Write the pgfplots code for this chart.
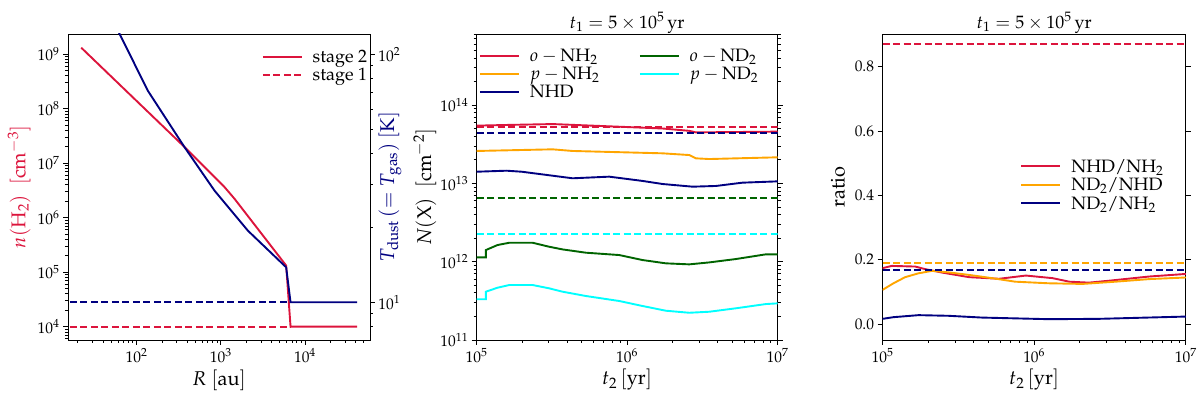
\documentclass[border=0pt]{standalone}
\usepackage[T1]{fontenc}
\usepackage{mathpazo}
\usepackage{pgfplots}
\pgfplotsset{compat=1.18}
\definecolor{crim}{RGB}{220,20,60}
\definecolor{nav}{RGB}{0,0,128}
\definecolor{orng}{RGB}{255,165,0}
\definecolor{dgreen}{RGB}{0,100,0}
\definecolor{cyn}{RGB}{0,255,255}
\pgfplotsset{
  myax/.style={
    scale only axis, height=306bp,
    tick align=outside,
    major tick length=5bp, minor tick length=3bp,
    every tick/.style={black, line width=0.7bp},
    tick label style={font=\fontsize{15.5}{17}\selectfont},
    label style={font=\fontsize{20}{24}\selectfont},
    every axis title shift=0pt,
    title style={font=\fontsize{18}{21}\selectfont, at={(axis description cs:0.5,1.018)}, anchor=base, yshift=0pt},
    xlabel style={at={(axis description cs:0.5,-0.131)}, anchor=center},
    every axis plot/.append style={line width=1.9bp},
    axis line style={line width=0.8bp},
    legend style={draw=none, fill=none, font=\fontsize{18}{19}\selectfont, inner sep=0pt, outer sep=0pt, cells={anchor=west},
      /tikz/every odd column/.append style={column sep=8bp}},
    legend image code/.code={\draw[##1] (0bp,0bp) -- (39bp,0bp);},
  },
  dsh/.style={dash pattern=on 7bp off 3.5bp},
}
\begin{document}
\begin{tikzpicture}
\path (0,0) rectangle (1200bp,-397bp);
% ---------------- left panel: density ----------------
\begin{axis}[myax, width=302bp, at={(68bp,-34bp)}, anchor=north west,
  xmode=log, ymode=log, xmin=15.3, xmax=59200, ymin=5.70e3, ymax=2.34e9,
  xtick pos=left, ytick pos=left,
  xlabel={$R\ [\mathrm{au}]$},
  ylabel={$n(\mathrm{H_2})\ \ [\mathrm{cm^{-3}}]$},
  ylabel style={at={(axis description cs:-0.162,0.5)}, anchor=center, text=crim},
  legend style={at={(rel axis cs:0.642,0.954)}, anchor=north west},
]
\addplot[crim] coordinates {(22.0,1.31e9) (371.5,1.97e7) (1109,3.63e6) (1459,2.21e6) (5984,1.32e5) (6745,1e4) (41800,1e4)};
\addlegendentry{stage 2}
\addplot[crim, dsh] coordinates {(16.1,1e4) (6745,1e4)};
\addlegendentry{stage 1}
\end{axis}
\begin{axis}[myax, width=302bp, at={(68bp,-34bp)}, anchor=north west,
  xmode=log, ymode=log, xmin=15.3, xmax=59200, ymin=7.05, ymax=120.8,
  axis x line=none, axis y line*=right,
  ylabel={$T_{\mathrm{dust}}\,(=T_{\mathrm{gas}})\ [\mathrm{K}]$},
  ylabel style={at={(axis description cs:1.066,0.5)}, anchor=center, text=nav, rotate=0},
]
\addplot[nav] coordinates {(50.1,141) (136.1,71.3) (371.5,42.2) (843.3,28.2) (2099,19.45) (5984,13.84) (6745,10) (41800,10)};
\addplot[nav, dsh] coordinates {(16.1,10) (6745,10)};
\end{axis}
% ---------------- middle panel: column densities ----------------
\begin{axis}[myax, width=301bp, at={(476.7bp,-34bp)}, anchor=north west,
  xmode=log, ymode=log, xmin=1e5, xmax=1e7, ymin=1e11, ymax=8.07e14,
  xtick pos=left, ytick pos=both,
  title={$t_1 = 5\times 10^5\,\mathrm{yr}$},
  xlabel={$t_2\,[\mathrm{yr}]$},
  ylabel={$N(\mathrm{X})\ \ [\mathrm{cm^{-2}}]$},
  ylabel style={at={(axis description cs:-0.172,0.5)}, anchor=center},
  legend style={at={(rel axis cs:0.008,0.958)}, anchor=north west},
]
\addplot[crim] coordinates {(1e5,5.45e13) (1.585e5,5.56e13) (3.199e5,5.71e13) (8.872e5,5.28e13) (1.722e6,5.01e13) (2.588e6,4.68e13) (2.864e6,4.47e13) (1e7,4.57e13)};
\addlegendentry{$o-\mathrm{NH_2}$}
\addplot[orng] coordinates {(1e5,2.588e13) (3.199e5,2.716e13) (4.345e5,2.588e13) (1.722e6,2.415e13) (2.588e6,2.296e13) (2.864e6,2.084e13) (3.516e6,2.042e13) (1e7,2.148e13)};
\addlegendentry{$p-\mathrm{NH_2}$}
\addplot[nav] coordinates {(1e5,1.406e13) (1.581e5,1.449e13) (1.995e5,1.406e13) (4.345e5,1.159e13) (7.603e5,1.216e13) (1.268e6,1.072e13) (1.722e6,9.795e12) (2.723e6,9.057e12) (3.890e6,9.247e12) (5.848e6,1.019e13) (1e7,1.059e13)};
\addlegendentry{NHD}
\addplot[crim, dsh, forget plot] coordinates {(1e5,5.28e13) (1e7,5.28e13)};
\addplot[nav, dsh, forget plot] coordinates {(1e5,4.345e13) (1e7,4.345e13)};
\addplot[dgreen, dsh, forget plot] coordinates {(1e5,6.50e12) (1e7,6.50e12)};
\addplot[cyn, dsh, forget plot] coordinates {(1e5,2.254e12) (1e7,2.254e12)};
\end{axis}
\begin{axis}[myax, width=301bp, at={(476.7bp,-34bp)}, anchor=north west,
  xmode=log, ymode=log, xmin=1e5, xmax=1e7, ymin=1e11, ymax=8.07e14,
  hide axis,
  legend style={at={(rel axis cs:0.539,0.958)}, anchor=north west},
]
\addplot[dgreen] coordinates {(1e5,1.135e12) (1.153e5,1.135e12) (1.153e5,1.406e12) (1.377e5,1.629e12) (1.648e5,1.742e12) (2.355e5,1.742e12) (3.034e5,1.549e12) (3.724e5,1.432e12) (5.321e5,1.300e12) (8.872e5,1.213e12) (1.268e6,1.047e12) (1.811e6,9.506e11) (2.588e6,9.226e11) (3.516e6,9.772e11) (5.284e6,1.079e12) (8.356e6,1.239e12) (1e7,1.239e12)};
\addlegendentry{$o-\mathrm{ND_2}$}
\addplot[cyn] coordinates {(1e5,3.304e11) (1.153e5,3.304e11) (1.153e5,4.130e11) (1.377e5,4.645e11) (1.648e5,5.023e11) (2.355e5,5.023e11) (3.034e5,4.560e11) (3.724e5,4.130e11) (5.321e5,3.639e11) (8.872e5,3.141e11) (1.268e6,2.710e11) (1.811e6,2.360e11) (2.588e6,2.223e11) (3.516e6,2.291e11) (5.284e6,2.535e11) (8.356e6,2.871e11) (1e7,2.931e11)};
\addlegendentry{$p-\mathrm{ND_2}$}
\end{axis}
% ---------------- right panel: ratios ----------------
\begin{axis}[myax, width=303.3bp, at={(882.7bp,-34bp)}, anchor=north west,
  xmode=log, xmin=1e5, xmax=1e7, ymin=-0.049, ymax=0.9015,
  xtick pos=left, ytick pos=both,
  ytick={0,0.2,0.4,0.6,0.8},
  yticklabel style={/pgf/number format/.cd, fixed, fixed zerofill, precision=1},
  title={$t_1 = 5\times 10^5\,\mathrm{yr}$},
  xlabel={$t_2\,[\mathrm{yr}]$},
  ylabel={ratio},
  ylabel style={at={(axis description cs:-0.147,0.5)}, anchor=center},
  legend style={at={(rel axis cs:0.455,0.598)}, anchor=north west},
]
\addplot[crim] coordinates {(1e5,0.174) (1.151e5,0.181) (1.641e5,0.179) (1.910e5,0.171) (2.489e5,0.160) (3.724e5,0.146) (5.875e5,0.141) (8.810e5,0.151) (1.321e6,0.143) (1.702e6,0.132) (2.301e6,0.129) (3.119e6,0.135) (5.728e6,0.148) (1e7,0.156)};
\addlegendentry{$\mathrm{NHD/NH_2}$}
\addplot[orng] coordinates {(1e5,0.1065) (1.180e5,0.127) (1.409e5,0.146) (1.726e5,0.158) (2.113e5,0.1655) (2.723e5,0.161) (3.724e5,0.153) (5.260e5,0.143) (7.482e5,0.132) (1.245e6,0.127) (2.084e6,0.125) (3.451e6,0.132) (5.728e6,0.140) (1e7,0.145)};
\addlegendentry{$\mathrm{ND_2/NHD}$}
\addplot[nav] coordinates {(1e5,0.0165) (1.180e5,0.0217) (1.726e5,0.028) (2.723e5,0.026) (4.519e5,0.0205) (1.245e6,0.0155) (2.655e6,0.0165) (1e7,0.0236)};
\addlegendentry{$\mathrm{ND_2/NH_2}$}
\addplot[crim, dsh, forget plot] coordinates {(1e5,0.8706) (1e7,0.8706)};
\addplot[orng, dsh, forget plot] coordinates {(1e5,0.189) (1e7,0.189)};
\addplot[nav, dsh, forget plot] coordinates {(1e5,0.169) (1e7,0.169)};
\end{axis}
\end{tikzpicture}
\end{document}
